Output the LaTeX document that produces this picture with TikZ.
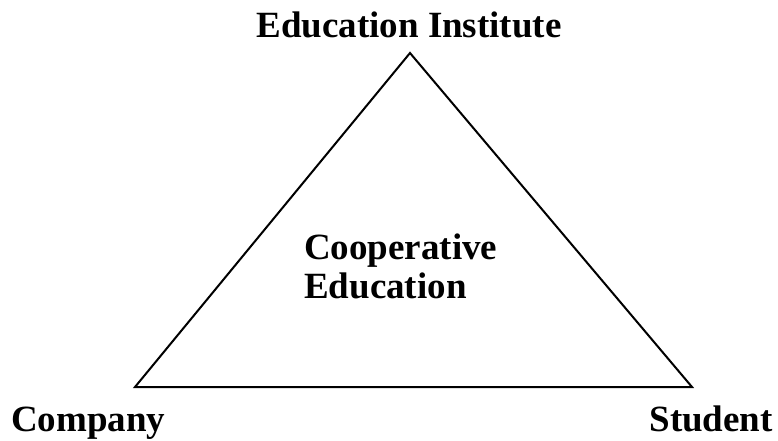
\documentclass[tikz,border=0pt]{standalone}
\usepackage{fontspec}
\setmainfont{Liberation Serif}
\begin{document}
\begin{tikzpicture}[x=1pt,y=-1pt,
  lbl/.style={font=\fontsize{37}{40}\selectfont\bfseries, inner sep=0pt},
  edge/.style={line width=2pt, line join=miter}]
\useasboundingbox (0,0) rectangle (778,441);
\coordinate (top) at (410,53);
\coordinate (bl) at (135,387);
\coordinate (br) at (692,387);
\draw[edge] (top) -- (bl) -- (br) -- cycle;
\node[lbl, anchor=base] (ei) at (409,38) {Education Institute};
\node[lbl, anchor=base west] (comp) at (11,431) {Company};
\node[lbl, anchor=base east] (stud) at (773,431) {Student};
\node[lbl, anchor=base west] (coop) at (304,259) {Cooperative};
\node[lbl, anchor=base west] (edu) at (304,298) {Education};
\end{tikzpicture}
\end{document}
